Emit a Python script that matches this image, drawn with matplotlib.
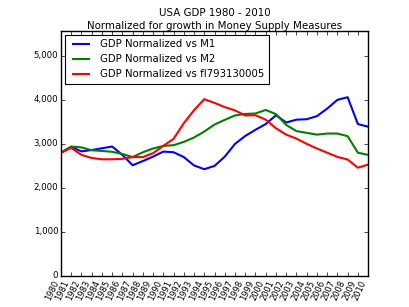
import matplotlib
matplotlib.use("Agg")
import matplotlib.pyplot as plt
from matplotlib.ticker import FuncFormatter

plt.style.use('classic')

years = list(range(1980, 2011))

gdp_m1 = [2800, 2930, 2830, 2860, 2900, 2940, 2750, 2515, 2610, 2710,
          2825, 2810, 2700, 2510, 2425, 2500, 2710, 3000, 3180, 3320,
          3450, 3650, 3485, 3550, 3560, 3630, 3800, 4000, 4060, 3450, 3390]
gdp_m2 = [2800, 2940, 2920, 2855, 2840, 2820, 2770, 2700, 2810, 2895,
          2955, 2970, 3045, 3145, 3280, 3440, 3545, 3645, 3680, 3690,
          3770, 3675, 3430, 3290, 3250, 3210, 3235, 3235, 3175, 2800, 2750]
gdp_fl = [2800, 2910, 2750, 2680, 2650, 2650, 2660, 2700, 2700, 2790,
          2955, 3115, 3470, 3765, 4015, 3930, 3835, 3760, 3645, 3650,
          3550, 3355, 3210, 3120, 3000, 2895, 2800, 2705, 2645, 2460, 2530]

labels = ['GDP Normalized vs M1', 'GDP Normalized vs M2',
          'GDP Normalized vs fl793130005']

fig = plt.figure(figsize=(4.09, 3.07), dpi=100)
ax = fig.add_axes([0.149, 0.101, 0.751, 0.799])

ax.plot(years, gdp_m1, color='b', lw=1.5, label=labels[0])
ax.plot(years, gdp_m2, color='g', lw=1.5, label=labels[1])
ax.plot(years, gdp_fl, color='r', lw=1.5, label=labels[2])

ax.set_xlim(1980, 2010)
ax.set_ylim(0, 5570)
ax.set_xticks(years)
ax.set_xticklabels([str(y) for y in years], rotation=65, ha='right',
                   fontsize=6)
ax.set_yticks([0, 1000, 2000, 3000, 4000, 5000])
ax.yaxis.set_major_formatter(FuncFormatter(lambda v, p: '{:,.0f}'.format(v)))
ax.tick_params(axis='y', labelsize=6.2)
ax.tick_params(length=3, pad=2)

ax.set_title('USA GDP 1980 - 2010\nNormalized for growth in Money Supply Measures',
             fontsize=7.4, linespacing=1.3, pad=1.5)

leg = ax.legend(loc='upper left', fontsize=7.3, handlelength=2.2,
                borderpad=0.45, labelspacing=0.5, borderaxespad=0.4)
leg.get_frame().set_linewidth(0.8)

fig.savefig('out.png', dpi=100)
